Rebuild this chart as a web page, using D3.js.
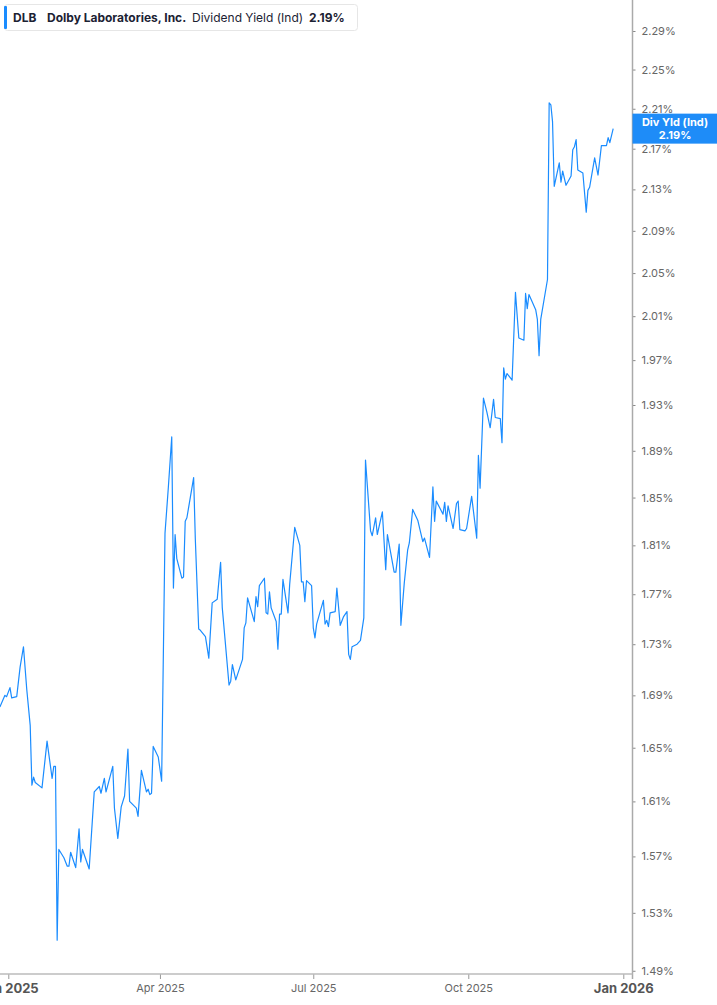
<!DOCTYPE html>
<html>
<head>
<meta charset="utf-8">
<title>DLB Dividend Yield</title>
<script type="text/javascript" src="https://d3js.org/d3.v7.js"></script>
<style>
    * { margin: 0; padding: 0; }
    body { background: #fff; }
    #chart-container { width: 717px; height: 1005px; }
    text { font-family: Inter, "Noto Sans", sans-serif; }
</style>
</head>
<body>
<div id="chart-container"></div>
<script type="text/javascript">

// trading days
const dates = [
  "2024-12-27","2024-12-30","2024-12-31","2025-01-02","2025-01-03","2025-01-06","2025-01-08","2025-01-10",
  "2025-01-12","2025-01-14","2025-01-15","2025-01-16","2025-01-17","2025-01-21","2025-01-24","2025-01-27",
  "2025-01-28","2025-01-29","2025-01-30","2025-01-31","2025-02-03","2025-02-05","2025-02-06","2025-02-07",
  "2025-02-10","2025-02-12","2025-02-13","2025-02-14","2025-02-18","2025-02-21","2025-02-24","2025-02-25",
  "2025-02-27","2025-02-28","2025-03-04","2025-03-05","2025-03-07","2025-03-09","2025-03-11","2025-03-13",
  "2025-03-14","2025-03-18","2025-03-19","2025-03-21","2025-03-24","2025-03-25","2025-03-26","2025-03-27",
  "2025-03-28","2025-03-31","2025-04-02","2025-04-04","2025-04-06","2025-04-08","2025-04-09","2025-04-10",
  "2025-04-11","2025-04-14","2025-04-15","2025-04-16","2025-04-17","2025-04-21","2025-04-22","2025-04-24",
  "2025-04-25","2025-04-28","2025-04-30","2025-05-02","2025-05-05","2025-05-07","2025-05-08","2025-05-12",
  "2025-05-13","2025-05-14","2025-05-16","2025-05-20","2025-05-21","2025-05-22","2025-05-23","2025-05-27",
  "2025-05-28","2025-05-29","2025-05-30","2025-06-02","2025-06-03","2025-06-04","2025-06-05","2025-06-06",
  "2025-06-09","2025-06-10","2025-06-11","2025-06-12","2025-06-13","2025-06-16","2025-06-17","2025-06-20",
  "2025-06-23","2025-06-24","2025-06-25","2025-06-26","2025-06-27","2025-06-30","2025-07-01","2025-07-02",
  "2025-07-03","2025-07-07","2025-07-08","2025-07-09","2025-07-10","2025-07-11","2025-07-14","2025-07-15",
  "2025-07-17","2025-07-19","2025-07-21","2025-07-22","2025-07-23","2025-07-24","2025-07-27","2025-07-29",
  "2025-07-31","2025-08-01","2025-08-04","2025-08-05","2025-08-07","2025-08-08","2025-08-11","2025-08-13",
  "2025-08-14","2025-08-18","2025-08-19","2025-08-21","2025-08-22","2025-08-24","2025-08-26","2025-08-27",
  "2025-08-29","2025-09-01","2025-09-04","2025-09-05","2025-09-08","2025-09-10","2025-09-11","2025-09-12",
  "2025-09-16","2025-09-17","2025-09-18","2025-09-19","2025-09-22","2025-09-24","2025-09-25","2025-09-26",
  "2025-09-29","2025-09-30","2025-10-03","2025-10-06","2025-10-07","2025-10-08","2025-10-10","2025-10-12",
  "2025-10-14","2025-10-16","2025-10-17","2025-10-20","2025-10-21","2025-10-22","2025-10-23","2025-10-24",
  "2025-10-27","2025-10-29","2025-10-31","2025-11-03","2025-11-04","2025-11-05","2025-11-06","2025-11-10",
  "2025-11-11","2025-11-12","2025-11-13","2025-11-17","2025-11-18","2025-11-19","2025-11-20","2025-11-21",
  "2025-11-24","2025-11-25","2025-11-26","2025-11-28","2025-12-01","2025-12-02","2025-12-03","2025-12-04",
  "2025-12-05","2025-12-07","2025-12-08","2025-12-10","2025-12-11","2025-12-12","2025-12-15","2025-12-17",
  "2025-12-19","2025-12-22","2025-12-23","2025-12-24","2025-12-26"
];

// dividend yield (%)
const yields = [
  1.681,1.690,1.689,1.696,1.688,1.689,1.712,1.728,
  1.694,1.667,1.622,1.628,1.624,1.620,1.655,1.627,
  1.636,1.636,1.511,1.575,1.569,1.563,1.563,1.573,
  1.562,1.590,1.566,1.575,1.561,1.617,1.621,1.616,
  1.627,1.617,1.636,1.605,1.583,1.606,1.614,1.649,
  1.610,1.605,1.599,1.633,1.617,1.619,1.615,1.616,
  1.651,1.643,1.625,1.820,1.859,1.902,1.775,1.819,
  1.799,1.783,1.784,1.830,1.833,1.867,1.815,1.742,
  1.741,1.736,1.719,1.763,1.766,1.796,1.759,1.698,
  1.701,1.714,1.702,1.718,1.743,1.747,1.767,1.748,
  1.768,1.760,1.777,1.783,1.755,1.754,1.772,1.759,
  1.748,1.726,1.754,1.754,1.782,1.755,1.778,1.825,
  1.810,1.780,1.780,1.764,1.781,1.777,1.743,1.735,
  1.746,1.765,1.746,1.749,1.744,1.755,1.756,1.775,
  1.745,1.752,1.756,1.722,1.718,1.728,1.730,1.733,
  1.751,1.882,1.822,1.818,1.833,1.819,1.838,1.790,
  1.819,1.788,1.788,1.811,1.745,1.779,1.806,1.812,
  1.840,1.831,1.813,1.816,1.800,1.859,1.830,1.847,
  1.836,1.846,1.830,1.843,1.824,1.845,1.847,1.823,
  1.822,1.824,1.851,1.816,1.886,1.858,1.936,1.924,
  1.910,1.935,1.919,1.918,1.897,1.963,1.953,1.958,
  1.952,2.032,1.990,1.988,2.031,2.017,2.030,2.016,
  2.007,1.974,2.007,2.044,2.216,2.214,2.197,2.133,
  2.156,2.137,2.148,2.134,2.143,2.169,2.172,2.179,
  2.149,2.147,2.146,2.108,2.129,2.132,2.161,2.144,
  2.173,2.173,2.181,2.176,2.190
];

const yTickValues = [1.49,1.53,1.57,1.61,1.65,1.69,1.73,1.77,1.81,1.85,1.89,1.93,1.97,2.01,2.05,2.09,2.13,2.17,2.21,2.25,2.29];
const xTickDates = ["2025-01-01","2025-04-01","2025-07-01","2025-10-01","2026-01-01"];
const xTickLabels = ["Jan 2025","Apr 2025","Jul 2025","Oct 2025","Jan 2026"];
const yearTicks = [true,false,false,false,true];

const ticker = "DLB";
const company = "Dolby Laboratories, Inc.";
const metric = "Dividend Yield (Ind)";
const lastValue = yields[yields.length - 1];

const width = 717, height = 1005;
const plotRight = 632.5, plotBottom = 974;
const lineColor = "#1a8cff";

const parse = d3.utcParse("%Y-%m-%d");
const data = dates.map((d, i) => ({ date: parse(d), value: yields[i] }));

const svg = d3.select("#chart-container").append("svg")
    .attr("width", width).attr("height", height)
    .attr("viewBox", `0 0 ${width} ${height}`);

const x = d3.scaleUtc()
    .domain([parse(xTickDates[0]), parse(xTickDates[xTickDates.length - 1])])
    .range([8.3, 623.3]);

const y = d3.scaleLog()
    .domain([1.4878, 2.3227])
    .range([plotBottom, 0]);

// line
svg.append("defs").append("clipPath").attr("id", "plot-clip")
  .append("rect").attr("x", 0).attr("y", 0).attr("width", plotRight).attr("height", plotBottom);

svg.append("path")
    .datum(data)
    .attr("clip-path", "url(#plot-clip)")
    .attr("fill", "none")
    .attr("stroke", lineColor)
    .attr("stroke-width", 1.2)
    .attr("stroke-linejoin", "round")
    .attr("d", d3.line().x(d => x(d.date)).y(d => y(d.value)));

// y axis (right)
const yAxis = svg.append("g")
    .attr("transform", `translate(${plotRight},0)`)
    .call(d3.axisRight(y).tickValues(yTickValues).tickSize(3).tickSizeOuter(0)
        .tickFormat(d => d.toFixed(2) + "%"));
yAxis.select(".domain").remove();
yAxis.selectAll(".tick line").attr("stroke", "#888");
yAxis.selectAll(".tick text")
    .attr("x", 9)
    .attr("fill", "#666")
    .style("font-size", "11px")
    .style("font-family", "Inter, sans-serif");
svg.append("line")
    .attr("x1", plotRight).attr("x2", plotRight)
    .attr("y1", 0).attr("y2", plotBottom + 5)
    .attr("stroke", "#aaa").attr("stroke-width", 1.5);

// x axis
const xAxis = svg.append("g")
    .attr("transform", `translate(0,${plotBottom})`)
    .call(d3.axisBottom(x).tickValues(xTickDates.map(parse)).tickSize(5).tickSizeOuter(0)
        .tickFormat((d, i) => xTickLabels[i]));
xAxis.select(".domain").remove();
xAxis.selectAll(".tick line").attr("stroke", "#999");
xAxis.selectAll(".tick text")
    .attr("y", 10)
    .attr("fill", (d, i) => yearTicks[i] ? "#555" : "#666")
    .style("font-size", (d, i) => yearTicks[i] ? "13px" : "11px")
    .style("font-weight", (d, i) => yearTicks[i] ? "700" : "400")
    .style("font-family", "Inter, sans-serif");
svg.append("line")
    .attr("x1", 0).attr("x2", plotRight)
    .attr("y1", plotBottom).attr("y2", plotBottom)
    .attr("stroke", "#bbb").attr("stroke-width", 1.5);

// legend box
const legend = svg.append("g");
legend.append("rect")
    .attr("x", 4.5).attr("y", 4.5).attr("width", 353).attr("height", 26)
    .attr("rx", 3).attr("fill", "#fff").attr("stroke", "#e6e6e6");
legend.append("rect")
    .attr("x", 4).attr("y", 6).attr("width", 3).attr("height", 23)
    .attr("rx", 1).attr("fill", lineColor);
const legendText = [
  { t: ticker, x: 13, w: 700 },
  { t: company, x: 47, w: 700 },
  { t: metric, x: 192, w: 400 },
  { t: lastValue.toFixed(2) + "%", x: 309, w: 700 }
];
legend.selectAll("text.lg").data(legendText).join("text")
    .attr("class", "lg")
    .attr("x", d => d.x).attr("y", 21.5)
    .attr("fill", "#1c2233")
    .style("font-size", "12px")
    .style("font-weight", d => d.w)
    .text(d => d.t);

// last value tag
const tagY = y(lastValue);
const tag = svg.append("g");
tag.append("rect")
    .attr("x", plotRight).attr("y", tagY - 15)
    .attr("width", width - plotRight).attr("height", 30)
    .attr("fill", "#1e8cf8");
tag.append("text")
    .attr("x", 675).attr("y", tagY - 3)
    .attr("text-anchor", "middle").attr("fill", "#fff")
    .style("font-size", "11px").style("font-weight", 700)
    .text("Div Yld (Ind)");
tag.append("text")
    .attr("x", 675).attr("y", tagY + 10)
    .attr("text-anchor", "middle").attr("fill", "#fff")
    .style("font-size", "11px").style("font-weight", 700)
    .text(lastValue.toFixed(2) + "%");

</script>
</body>
</html>
